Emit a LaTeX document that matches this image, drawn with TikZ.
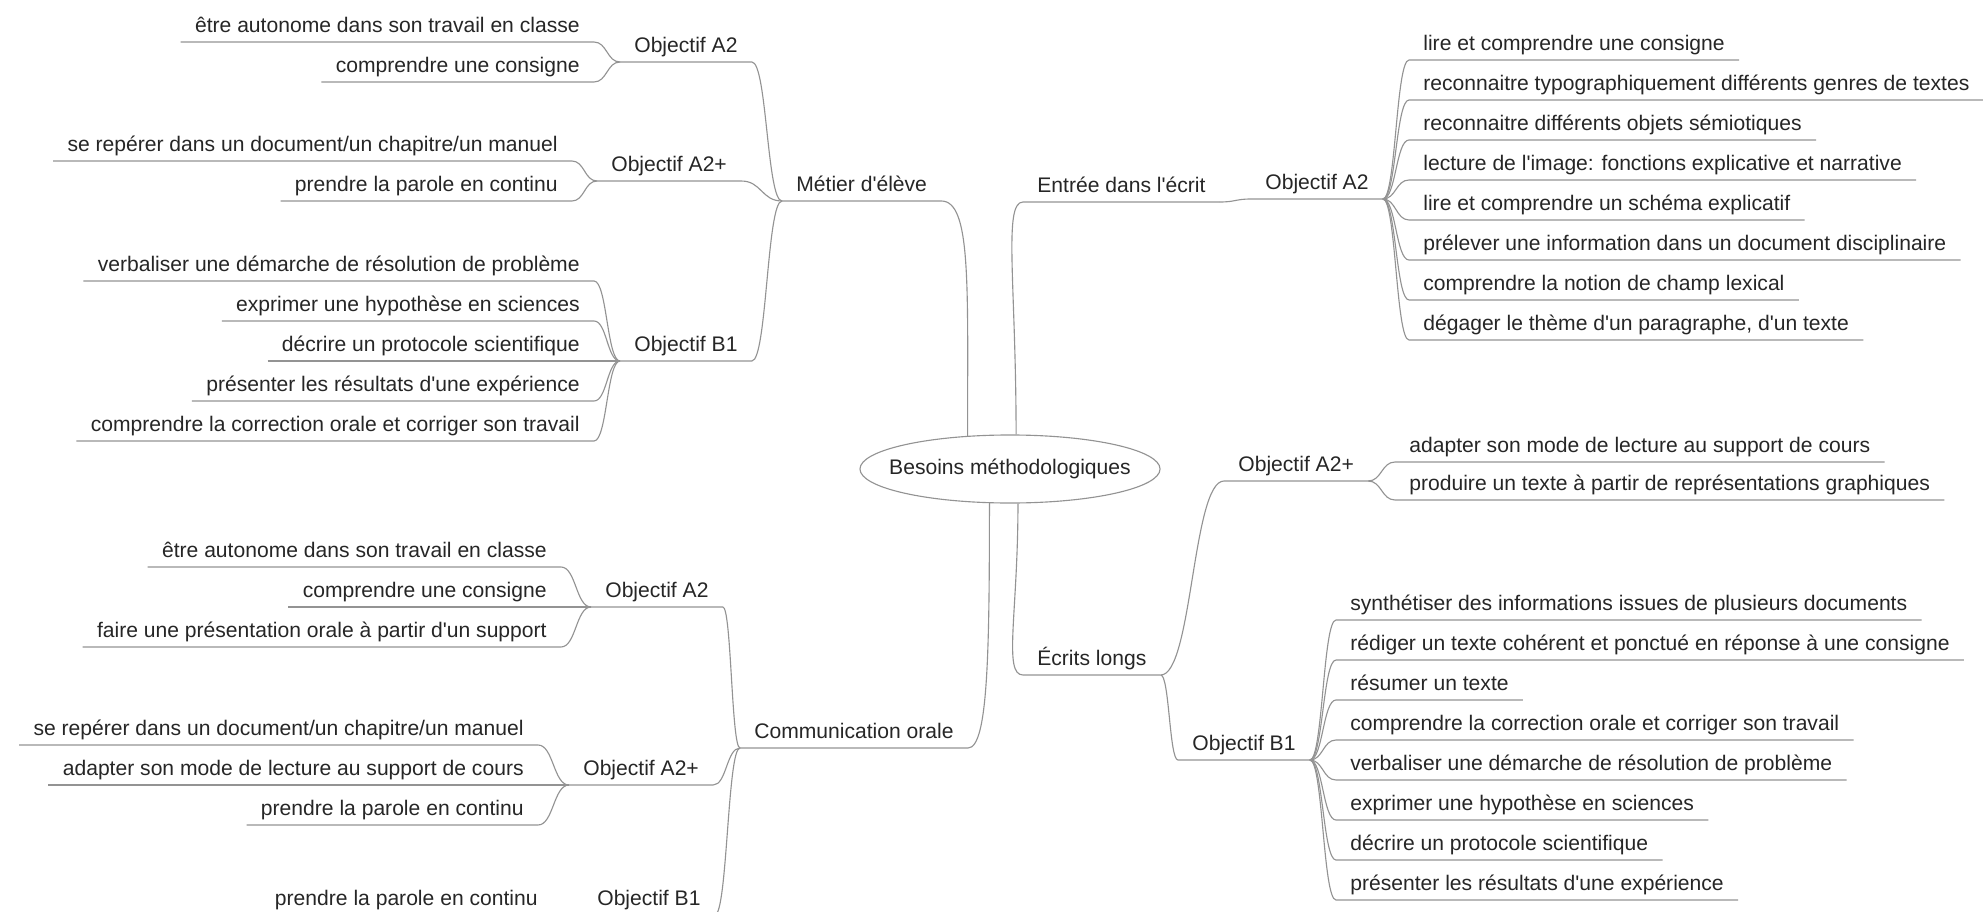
\documentclass[tikz,border=0pt]{standalone}
\usepackage{fontspec}
\newfontfamily\mapfont{Liberation Sans}
\usetikzlibrary{calc,shapes.geometric}

\tikzset{
  txt/.style={font=\mapfont\fontsize{15}{18}\selectfont, text=black!85,
    inner xsep=10pt, inner ysep=2.9pt, text height=11pt, text depth=3.5pt},
  leafL/.style={txt, anchor=south east},
  leafR/.style={txt, anchor=south west},
  edge/.style={draw=gray!85, line width=0.8pt},
  link/.style={to path={let \p1=(\tikztostart), \p2=(\tikztotarget) in
    .. controls ({0.5*\x1+0.5*\x2},\y1) and ({0.5*\x1+0.5*\x2},\y2) .. (\tikztotarget)}},
  hub/.style={ellipse, edge, minimum width=7.5cm, minimum height=1.7cm, inner sep=0pt},
}

\begin{document}
\begin{tikzpicture}[x=0.025cm, y=-0.025cm]
\useasboundingbox (0,0) rectangle (1983,912);
\clip (0,0) rectangle (1983,912);

% centre
\node[hub, label={[txt, inner sep=0pt]center:Besoins méthodologiques}] (root) at (1010,469) {};

% main branches
\node[leafR] (metier) at (782,201) {Métier d'élève};
\node[leafR] (entree) at (1023,202) {Entrée dans l'écrit};
\node[leafR] (ecrits) at (1023,675) {Écrits longs};
\node[leafR] (comm) at (740,748) {Communication orale};

\draw[edge] (metier.south west) -- (metier.south east) .. controls +(30,0) and +(0,-150) .. (root.142);
\draw[edge] (root.80) .. controls +(0,-150) and +(-20,0) .. (entree.south west) -- (entree.south east);
\draw[edge] (root.283) .. controls +(0,110) and +(-20,0) .. (ecrits.south west) -- (ecrits.south east);
\draw[edge] (root.239) .. controls +(0,150) and +(20,0) .. (comm.south east) -- (comm.south west);

% objectives
\node[leafR] (mA2) at (620,62) {Objectif A2};
\node[leafR] (mA2p) at (597,181) {Objectif A2+};
\node[leafR] (mB1) at (620,361) {Objectif B1};
\node[leafR] (eA2) at (1251,199) {Objectif A2};
\node[leafR] (lA2p) at (1224,481) {Objectif A2+};
\node[leafR] (lB1) at (1178,760) {Objectif B1};
\node[leafR] (cA2) at (591,607) {Objectif A2};
\node[leafR] (cA2p) at (569,785) {Objectif A2+};
\node[leafR] (cB1) at (583,915) {Objectif B1};

\foreach \o in {mA2,mA2p,mB1}
  \draw[edge] (\o.south west) -- (\o.south east) to[link] (metier.south west);
\draw[edge] (entree.south east) to[link] (eA2.south west) -- (eA2.south east);
\foreach \o in {lA2p,lB1}
  \draw[edge] (ecrits.south east) to[link] (\o.south west) -- (\o.south east);
\foreach \o in {cA2,cA2p,cB1}
  \draw[edge] (\o.south west) -- (\o.south east) to[link] (comm.south west);

% Métier d'élève
\foreach \t [count=\i] in {être autonome dans son travail en classe, comprendre une consigne}{
  \node[leafL] (mA2-\i) at (594,{2+40*\i}) {\t};
  \draw[edge] (mA2-\i.south west) -- (mA2-\i.south east) to[link] (mA2.south west);
}
\foreach \t [count=\i] in {se repérer dans un document/un chapitre/un manuel, prendre la parole en continu}{
  \node[leafL] (mA2p-\i) at (572,{121+40*\i}) {\t};
  \draw[edge] (mA2p-\i.south west) -- (mA2p-\i.south east) to[link] (mA2p.south west);
}
\foreach \t [count=\i] in {verbaliser une démarche de résolution de problème,
    exprimer une hypothèse en sciences, décrire un protocole scientifique,
    présenter les résultats d'une expérience,
    comprendre la correction orale et corriger son travail}{
  \node[leafL] (mB1-\i) at (594,{241+40*\i}) {\t};
  \draw[edge] (mB1-\i.south west) -- (mB1-\i.south east) to[link] (mB1.south west);
}

% Entrée dans l'écrit
\foreach \t [count=\i] in {lire et comprendre une consigne,
    reconnaitre typographiquement différents genres de textes,
    reconnaitre différents objets sémiotiques,
    lecture de l'image: fonctions explicative et narrative,
    lire et comprendre un schéma explicatif,
    prélever une information dans un document disciplinaire,
    comprendre la notion de champ lexical,
    {dégager le thème d'un paragraphe, d'un texte}}{
  \node[leafR] (eA2-\i) at (1409,{20+40*\i}) {\t};
  \draw[edge] (eA2.south east) to[link] (eA2-\i.south west) -- (eA2-\i.south east);
}

% Écrits longs
\foreach \t [count=\i] in {adapter son mode de lecture au support de cours,
    produire un texte à partir de représentations graphiques}{
  \node[leafR] (lA2p-\i) at (1395,{424+38*\i}) {\t};
  \draw[edge] (lA2p.south east) to[link] (lA2p-\i.south west) -- (lA2p-\i.south east);
}
\foreach \t [count=\i] in {synthétiser des informations issues de plusieurs documents,
    rédiger un texte cohérent et ponctué en réponse à une consigne,
    résumer un texte,
    comprendre la correction orale et corriger son travail,
    verbaliser une démarche de résolution de problème,
    exprimer une hypothèse en sciences,
    décrire un protocole scientifique,
    présenter les résultats d'une expérience}{
  \node[leafR] (lB1-\i) at (1336,{580+40*\i}) {\t};
  \draw[edge] (lB1.south east) to[link] (lB1-\i.south west) -- (lB1-\i.south east);
}

% Communication orale
\foreach \t [count=\i] in {être autonome dans son travail en classe, comprendre une consigne,
    faire une présentation orale à partir d'un support}{
  \node[leafL] (cA2-\i) at (561,{527+40*\i}) {\t};
  \draw[edge] (cA2-\i.south west) -- (cA2-\i.south east) to[link] (cA2.south west);
}
\foreach \t [count=\i] in {se repérer dans un document/un chapitre/un manuel,
    adapter son mode de lecture au support de cours, prendre la parole en continu}{
  \node[leafL] (cA2p-\i) at (538,{705+40*\i}) {\t};
  \draw[edge] (cA2p-\i.south west) -- (cA2p-\i.south east) to[link] (cA2p.south west);
}
\node[leafL] (cB1-1) at (552,915) {prendre la parole en continu};
\draw[edge] (cB1-1.south west) -- (cB1-1.south east) to[link] (cB1.south west);

\end{tikzpicture}
\end{document}
